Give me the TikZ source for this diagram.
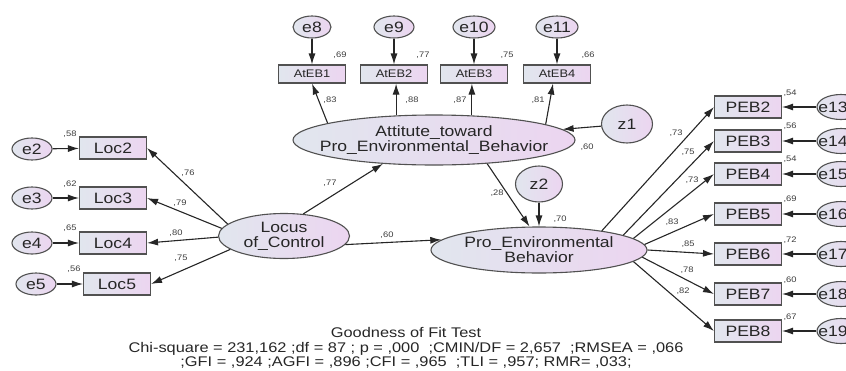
\documentclass[tikz,border=0pt]{standalone}
\usepackage{fontspec}
\setmainfont[FakeStretch=1.17]{Liberation Sans}
\usetikzlibrary{shapes.geometric,arrows.meta}

\definecolor{fillL}{HTML}{E1E6EE}
\definecolor{fillR}{HTML}{ECD5F0}
\definecolor{ink}{HTML}{262626}

\begin{document}
\begin{tikzpicture}[x=1pt,y=-1pt,
  base/.style={draw=ink!80, line width=1.1pt, left color=fillL, right color=fillR, inner sep=0pt, text=ink},
  obs/.style={base, rectangle, minimum width=67, minimum height=22, font=\fontsize{15}{15}\selectfont},
  obssmall/.style={base, rectangle, minimum width=67, minimum height=18, font=\fontsize{11}{11}\selectfont},
  err/.style={base, ellipse, minimum width=40, minimum height=22, font=\fontsize{15}{15}\selectfont},
  errtext/.style={text=ink, inner sep=0pt, font=\fontsize{15}{15}\selectfont},
  lat/.style={base, ellipse},
  lattext/.style={text=ink, align=center, font=\fontsize{15}{15}\selectfont},
  num/.style={text=ink!90, font=\fontsize{8}{8}\selectfont, inner sep=0pt},
  path/.style={draw=ink, line width=1.1pt, -{Latex[length=11pt,width=7pt]}}
]
\useasboundingbox (0,0) rectangle (846,370);
\clip (0,0) rectangle (846,370);

% latent variables
\node[lat, minimum width=131, minimum height=45,
      label={[lattext, name=loctext]center:Locus\\of\_Control}] (loc) at (284,236) {};
\node[lat, minimum width=282, minimum height=50,
      label={[lattext, name=atttext]center:Attitute\_toward\\Pro\_Environmental\_Behavior}] (att) at (434,140) {};
\node[lat, minimum width=216, minimum height=46,
      label={[lattext, name=pebtext]center:Pro\_Environmental\\Behavior}] (peb) at (539,250) {};
\node[err, minimum width=51, minimum height=38] (z1) at (627,124) {z1};
\node[err, minimum width=47, minimum height=36] (z2) at (539,184) {z2};

% locus of control indicators
\node[obs] (Loc2) at (113,148) {Loc2};
\node[obs] (Loc3) at (113,198) {Loc3};
\node[obs] (Loc4) at (113,243) {Loc4};
\node[obs] (Loc5) at (117,284) {Loc5};
\node[err] (e2) at (32,149) {e2};
\node[err] (e3) at (32,198) {e3};
\node[err] (e4) at (32,243) {e4};
\node[err] (e5) at (36,284) {e5};

% attitude indicators
\node[obssmall] (AtEB1) at (312,74) {AtEB1};
\node[obssmall] (AtEB2) at (394,74) {AtEB2};
\node[obssmall] (AtEB3) at (474,74) {AtEB3};
\node[obssmall] (AtEB4) at (557,74) {AtEB4};
\node[err, minimum width=38] (e8) at (312,27) {e8};
\node[err, minimum width=40] (e9) at (394,27) {e9};
\node[err, minimum width=42] (e10) at (474,27) {e10};
\node[err, minimum width=42] (e11) at (557,27) {e11};

% behaviour indicators; their error terms run off the right edge
\foreach \i/\y/\e in {2/107/13, 3/141/14, 4/174/15, 5/214/16, 6/254/17, 7/294/18, 8/331/19}{
  \node[obs] (PEB\i) at (748,\y) {PEB\i};
  \node[err, minimum width=48, minimum height=25] (e\e) at (841,\y) {};
  \node[errtext] (e\e t) at (833,\y) {e\e};
  \draw[path] (e\e) -- (PEB\i);
}

% error terms
\draw[path] (e2) -- (Loc2);
\draw[path] (e3) -- (Loc3);
\draw[path] (e4) -- (Loc4);
\draw[path] (e5) -- (Loc5);
\draw[path] (e8) -- (AtEB1);
\draw[path] (e9) -- (AtEB2);
\draw[path] (e10) -- (AtEB3);
\draw[path] (e11) -- (AtEB4);
\draw[path] (z1) -- (att);
\draw[path] (z2) -- (peb);

% loadings
\draw[path] (loc.168) -- (Loc2.east);
\draw[path] (loc.173) -- (Loc3.east);
\draw[path] (loc.181) -- (Loc4.east);
\draw[path] (loc.194) -- (Loc5.east);
\draw[path] (att.171) -- (AtEB1.south);
\draw[path] (att.147) -- (att.147 |- AtEB2.south);
\draw[path] (att.33) -- (att.33 |- AtEB3.south);
\draw[path] (att.8.7) -- ([xshift=-4pt]AtEB4.south);
\draw[path] (peb.17.6) -- (PEB2.west);
\draw[path] (peb.10.2) -- (PEB3.west);
\draw[path] (peb.7) -- (PEB4.west);
\draw[path] (peb.3.7) -- (PEB5.west);
\draw[path] (peb.0) -- (PEB6.west);
\draw[path] (peb.-4.4) -- (PEB7.west);
\draw[path] (peb.-7.7) -- (PEB8.west);

% structural paths
\draw[path] (loc.49) -- (att.205);
\draw[path] (loc.-8) -- (peb.174);
\draw[path] (att.-24) -- (peb.112);

% coefficient labels
\node[num] (n76) at (188,173) {,76};
\node[num] (n79) at (180,203) {,79};
\node[num] (n80) at (176,233) {,80};
\node[num] (n75) at (181,258) {,75};
\node[num] (r58) at (70,134) {,58};
\node[num] (r62) at (70,184) {,62};
\node[num] (r65) at (70,228) {,65};
\node[num] (r56) at (74,269) {,56};
\node[num] (n77) at (330,183) {,77};
\node[num] (n60) at (387,235) {,60};
\node[num] (n28) at (497,193) {,28};
\node[num] (r70) at (560,219) {,70};
\node[num] (r60) at (587,147) {,60};
\node[num] (n83) at (330,100) {,83};
\node[num] (n88) at (412,100) {,88};
\node[num] (n87) at (460,100) {,87};
\node[num] (n81) at (538,100) {,81};
\node[num] (r69) at (340,55) {,69};
\node[num] (r77) at (423,55) {,77};
\node[num] (r75) at (507,55) {,75};
\node[num] (r66) at (588,55) {,66};
\node[num] (p73a) at (676,133) {,73};
\node[num] (p75) at (688,152) {,75};
\node[num] (p73b) at (692,180) {,73};
\node[num] (p83) at (672,222) {,83};
\node[num] (p85) at (688,244) {,85};
\node[num] (p78) at (687,270) {,78};
\node[num] (p82) at (683,291) {,82};
\node[num] (q54a) at (790,93) {,54};
\node[num] (q56) at (790,126) {,56};
\node[num] (q54b) at (790,159) {,54};
\node[num] (q69) at (790,199) {,69};
\node[num] (q72) at (790,240) {,72};
\node[num] (q60) at (790,280) {,60};
\node[num] (q67) at (790,317) {,67};

% fit statistics
\node[text=ink, align=center, inner sep=0pt, font=\fontsize{14}{14.6}\selectfont] (fit) at (406,348)
  {Goodness of Fit Test\\
   Chi-square = 231,162 ;df = 87 ; p = ,000 \ ;CMIN/DF = 2,657 \ ;RMSEA = ,066\\
   ;GFI = ,924 ;AGFI = ,896 ;CFI = ,965 \ ;TLI = ,957; RMR= ,033;};
\end{tikzpicture}
\end{document}
